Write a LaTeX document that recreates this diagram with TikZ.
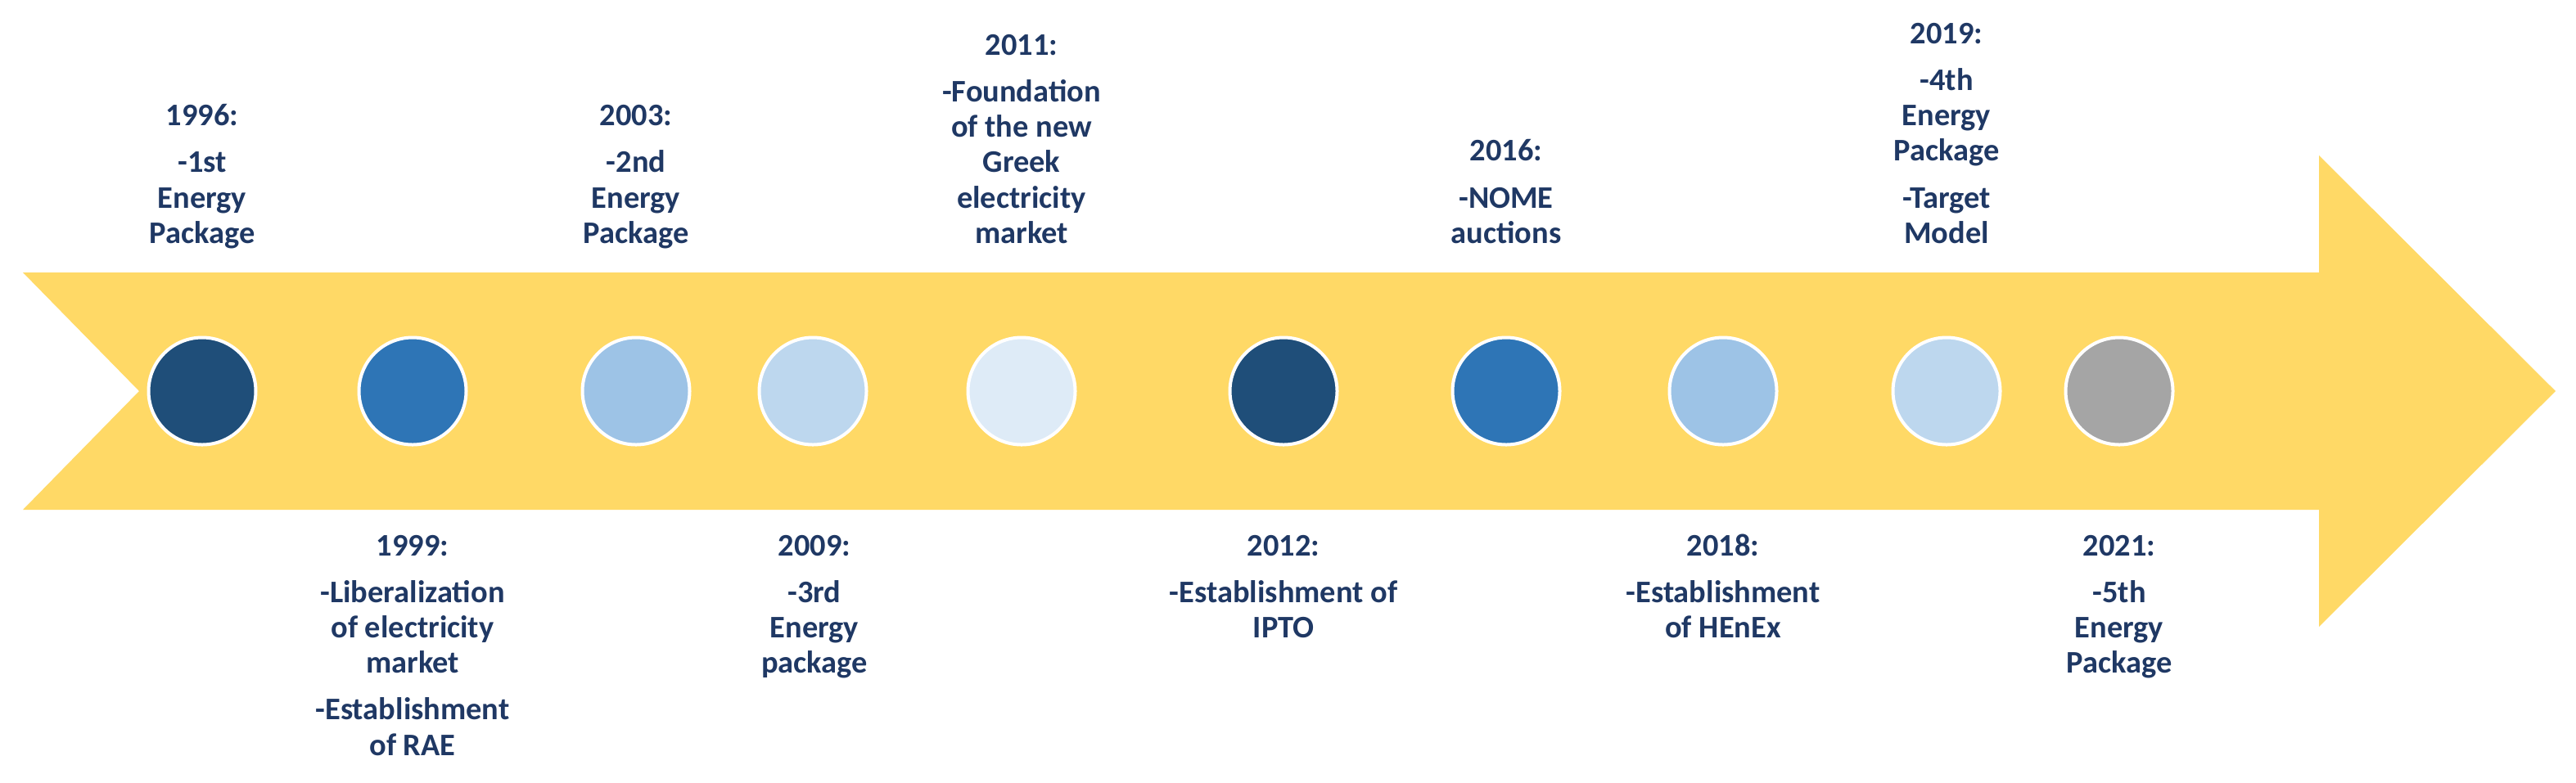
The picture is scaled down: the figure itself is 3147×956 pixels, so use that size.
\documentclass[tikz,border=0pt]{standalone}
\usepackage{fontspec}
\setmainfont{Carlito}
\definecolor{arrowyellow}{HTML}{FFD966}
\definecolor{cnavy}{HTML}{1F4E79}
\definecolor{cblue}{HTML}{2E75B6}
\definecolor{clight}{HTML}{9DC3E6}
\definecolor{clighter}{HTML}{BDD7EE}
\definecolor{clightest}{HTML}{DEEBF7}
\definecolor{cgray}{HTML}{A5A5A5}
\definecolor{txtblue}{HTML}{1F3864}
\begin{document}
\begin{tikzpicture}[x=0.25pt,y=-0.25pt,
  dot/.style={circle, minimum size=32.75pt, inner sep=0pt, draw=white, line width=1pt},
  lbl/.style={align=center, inner sep=0pt, text=txtblue,
    font=\fontsize{9.6}{10.8}\selectfont\bfseries},
  toplbl/.style={lbl, anchor=south},
  botlbl/.style={lbl, anchor=north}]
\useasboundingbox (0,0) rectangle (3147,956);
% arrow
\fill[arrowyellow] (28,333) -- (2833,333) -- (2833,190) -- (3122,478)
  -- (2833,766) -- (2833,623) -- (28,623) -- (170,478) -- cycle;
% circles
\node[dot, fill=cnavy]     (c1)  at (247,478)  {};
\node[dot, fill=cblue]     (c2)  at (504,478)  {};
\node[dot, fill=clight]    (c3)  at (777,478)  {};
\node[dot, fill=clighter]  (c4)  at (993,478)  {};
\node[dot, fill=clightest] (c5)  at (1248,478) {};
\node[dot, fill=cnavy]     (c6)  at (1568,478) {};
\node[dot, fill=cblue]     (c7)  at (1840,478) {};
\node[dot, fill=clight]    (c8)  at (2105,478) {};
\node[dot, fill=clighter]  (c9)  at (2378,478) {};
\node[dot, fill=cgray]     (c10) at (2589,478) {};
% top labels
\node[toplbl] (t1) at (247,311) {1996:\\[3.5pt]-1st\\Energy\\Package\strut};
\node[toplbl] (t3) at (777,311) {2003:\\[3.5pt]-2nd\\Energy\\Package\strut};
\node[toplbl] (t5) at (1248,311) {2011:\\[3.5pt]-Foundation\\of the new\\Greek\\electricity\\market\strut};
\node[toplbl] (t7) at (1840,311) {2016:\\[3.5pt]-NOME\\auctions\strut};
\node[toplbl] (t9) at (2378,311) {2019:\\[3.5pt]-4th\\Energy\\Package\\[3.5pt]-Target\\Model\strut};
% bottom labels
\node[botlbl] (b2) at (504,648) {\strut 1999:\\[3.5pt]-Liberalization\\of electricity\\market\\[3.5pt]-Establishment\\of RAE};
\node[botlbl] (b4) at (995,648) {\strut 2009:\\[3.5pt]-3rd\\Energy\\package};
\node[botlbl] (b6) at (1568,648) {\strut 2012:\\[3.5pt]-Establishment of\\IPTO};
\node[botlbl] (b8) at (2105,648) {\strut 2018:\\[3.5pt]-Establishment\\of HEnEx};
\node[botlbl] (b10) at (2589,648) {\strut 2021:\\[3.5pt]-5th\\Energy\\Package};
\end{tikzpicture}
\end{document}
